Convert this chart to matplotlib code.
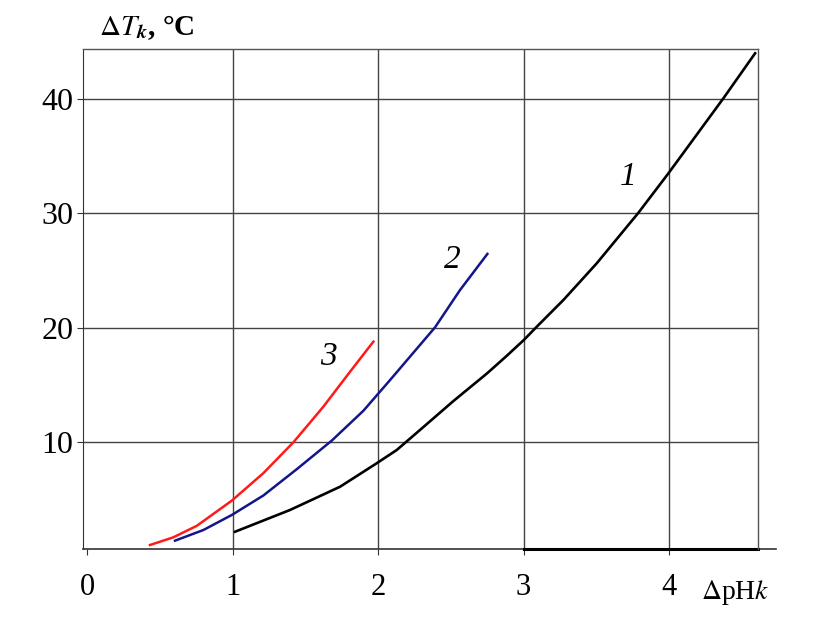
import numpy as np
import matplotlib.pyplot as plt

plt.rcParams['font.family'] = 'Liberation Serif'
plt.rcParams['mathtext.fontset'] = 'stix'

# кривая 1
x1 = [1.016, 1.394, 1.738, 1.990, 2.128, 2.287, 2.517, 2.747, 2.884, 3.003,
      3.091, 3.274, 3.503, 3.790, 3.996, 4.374, 4.592]
y1 = [2.19, 4.09, 6.12, 8.17, 9.33, 11.07, 13.60, 16.0, 17.55, 18.95,
      20.10, 22.43, 25.63, 30.05, 33.49, 40.04, 43.97]
# кривая 2
x2 = [0.603, 0.798, 0.993, 1.210, 1.440, 1.681, 1.898, 2.082, 2.219, 2.391,
      2.563, 2.751]
y2 = [1.41, 2.34, 3.65, 5.35, 7.65, 10.15, 12.75, 15.44, 17.48, 20.04,
      23.30, 26.45]
# кривая 3
x3 = [0.431, 0.591, 0.752, 0.993, 1.210, 1.417, 1.623, 1.807, 1.967]
y3 = [1.03, 1.70, 2.70, 4.90, 7.30, 10.0, 13.11, 16.17, 18.79]

xticks = [0, 1, 2, 3, 4]
yticks = [10, 20, 30, 40]

fig = plt.figure(figsize=(8.35, 6.23), dpi=100)
ax = fig.add_axes([0.0994, 0.1183, 0.8084, 0.8026])

ax.plot(x1, y1, color='black', lw=1.9, solid_joinstyle='round')
ax.plot(x2, y2, color='#15158a', lw=1.8, solid_joinstyle='round')
ax.plot(x3, y3, color='#ff1a1a', lw=1.8, solid_joinstyle='round')

ax.text(3.72, 33.2, '1', fontsize=24, style='italic', ha='center', va='center')
ax.text(2.51, 25.9, '2', fontsize=24, style='italic', ha='center', va='center')
ax.text(1.66, 17.5, '3', fontsize=24, style='italic', ha='center', va='center')

ax.set_xlim(-0.03, 4.612)
ax.set_ylim(0.655, 44.32)
ax.set_xticks(xticks)
ax.set_yticks(yticks)
ax.tick_params(axis='both', direction='out', length=4, color='#333333')
ax.tick_params(axis='x', labelsize=22, pad=13)
ax.tick_params(axis='y', labelsize=23, pad=3)
ax.grid(True, color='#444444', lw=1.0)
ax.xaxis.get_gridlines()[0].set_visible(False)

for s in ['top', 'right']:
    ax.spines[s].set_color('#555555')
    ax.spines[s].set_linewidth(1.0)
ax.spines['left'].set_color('#333333')
ax.spines['bottom'].set_visible(False)
ax.axhline(0.655, xmin=0, xmax=1.027, color='#333333', lw=1.2, clip_on=False)
ax.axhline(0.655, xmin=(3 + 0.03) / 4.642, xmax=1.0, color='black', lw=2.2, clip_on=False)

fig.text(0.118, 0.955, r'$\Delta T_{\mathbfit{k}}$, °C', fontsize=21,
         fontweight='bold', va='center')
ax.text(4.22, -3.1, r'$\Delta$pH$\mathit{k}$', fontsize=20, va='center')

plt.savefig('out.png', dpi=100)
